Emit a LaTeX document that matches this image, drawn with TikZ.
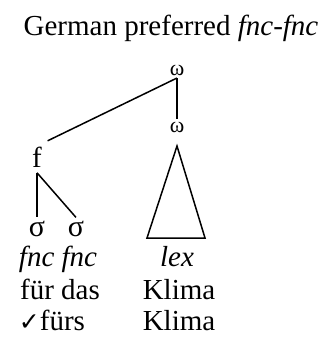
\documentclass[tikz,border=0pt]{standalone}
\usepackage{fontspec}
\setmainfont{Liberation Serif}
\newfontfamily\checkfont{DejaVu Sans}
\begin{document}
\begin{tikzpicture}[x=1pt,y=-1pt,line width=1.5pt,
    every node/.style={inner sep=2pt,font=\fontsize{29}{31}\selectfont},
    greek/.style={font=\fontsize{22}{24}\selectfont},
    syll/.style={inner sep=3pt,font=\fontsize{30}{32}\selectfont},
    word/.style={anchor=base}]
    \useasboundingbox (0,0) rectangle (328,341);
    \node[word] (title) at (171,35) {German preferred \textit{fnc-fnc}};
    \node[greek] (w1) at (177,70) {ω};
    \node[greek] (w2) at (177,127) {ω};
    \node[word,inner sep=5pt] (f) at (37,167) {f};
    \node[syll] (s1) at (37,229) {σ};
    \node[syll] (s2) at (76,229) {σ};
    \coordinate (apex) at (177,146);
    \coordinate (bl) at (147,238);
    \coordinate (br) at (205,238);
    \draw (w1) -- (w2);
    \draw (w1.south) -- (f.north east);
    \draw (f.south) -- (s1.north);
    \draw (f.south) -- (s2.north);
    \draw (apex) -- (bl) -- (br) -- cycle;
    \node[word] (fnc) at (58,266) {\textit{fnc fnc}};
    \node[word] (lex) at (177,266) {\textit{lex}};
    \node[word] (fd) at (60,299) {für das};
    \node[word] (k1) at (179,299) {Klima};
    \node[word] (fs) at (52,330) {{\checkfont\fontsize{25}{26}\selectfont ✓}fürs};
    \node[word] (k2) at (179,330) {Klima};
\end{tikzpicture}
\end{document}
